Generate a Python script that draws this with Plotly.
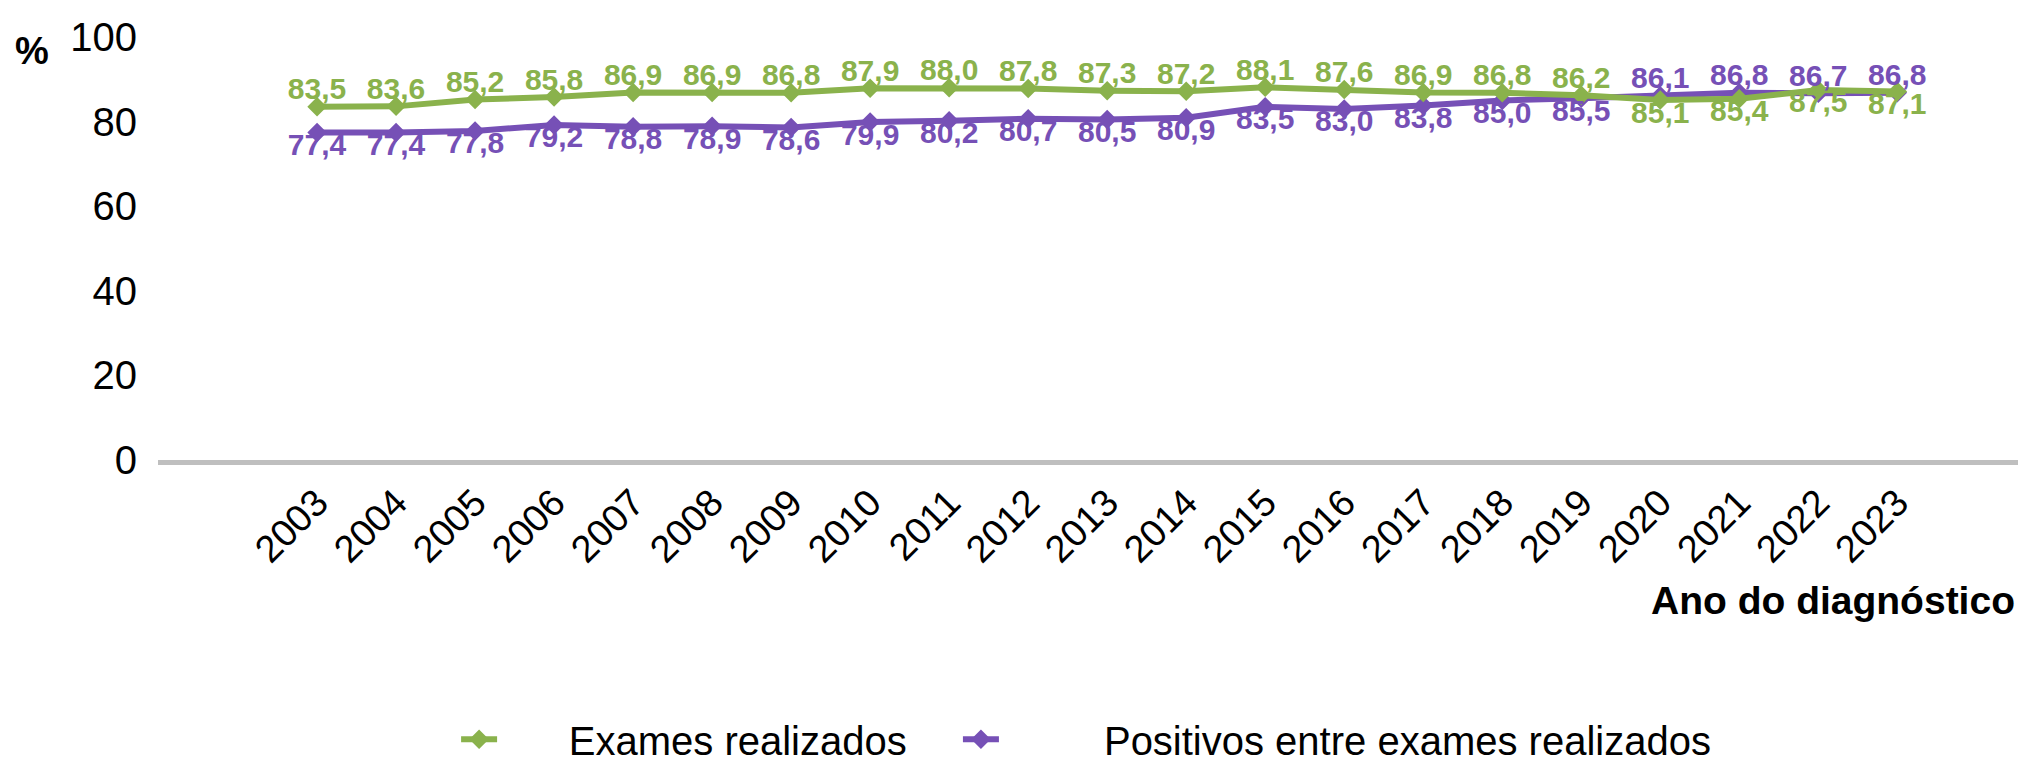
import plotly.graph_objects as go

years = [str(y) for y in range(2003, 2024)]
exames = [83.5, 83.6, 85.2, 85.8, 86.9, 86.9, 86.8, 87.9, 88.0, 87.8, 87.3,
          87.2, 88.1, 87.6, 86.9, 86.8, 86.2, 85.1, 85.4, 87.5, 87.1]
positivos = [77.4, 77.4, 77.8, 79.2, 78.8, 78.9, 78.6, 79.9, 80.2, 80.7, 80.5,
             80.9, 83.5, 83.0, 83.8, 85.0, 85.5, 86.1, 86.8, 86.7, 86.8]
y_ticks = [0, 20, 40, 60, 80, 100]

GREEN = "#8AB24C"
PURPLE = "#7650B6"
FONT = "Liberation Sans, Arial, sans-serif"
NBSP = "\u00a0"  # Excel leaves a wide gap between legend key and text


def fmt(v):
    return f"{v:.1f}".replace(".", ",")


# labels swap sides from 2020 on
swap = [int(y) >= 2020 for y in years]

series = [
    # name, values, colour, legend, padding, label positions
    ("Positivos entre exames realizados", positivos, PURPLE, "legend2", 9,
     ["top center" if s else "bottom center" for s in swap]),
    ("Exames realizados", exames, GREEN, "legend", 6,
     ["bottom center" if s else "top center" for s in swap]),
]

fig = go.Figure()
for name, vals, color, leg, pad, _ in series:
    fig.add_trace(go.Scatter(
        x=years, y=vals, name=NBSP * pad + name, legend=leg,
        mode="lines+markers",
        line=dict(color=color, width=6),
        marker=dict(symbol="diamond", size=15, color=color),
    ))
# value labels as separate text traces so they sit close to the points
for name, vals, color, leg, pad, pos in series:
    fig.add_trace(go.Scatter(
        x=years, y=vals, mode="text", showlegend=False, hoverinfo="skip",
        text=[fmt(v) for v in vals], textposition=pos,
        textfont=dict(family=FONT, size=30, color=color, weight="bold"),
        cliponaxis=False,
    ))

legend_style = dict(
    orientation="h", yanchor="middle", xanchor="left", y=-0.66,
    font=dict(family=FONT, size=40, color="black"), itemwidth=36,
    bgcolor="rgba(0,0,0,0)",
)

fig.update_layout(
    width=2026, height=757,
    margin=dict(l=150, r=0, t=28.5, b=304.5, autoexpand=False),
    paper_bgcolor="white", plot_bgcolor="white",
    font=dict(family=FONT, size=40, color="black"),
    showlegend=True,
    legend=dict(legend_style, x=0.1589),
    legend2=dict(legend_style, x=0.4264),
    xaxis=dict(
        type="category", range=[-2.013, 21.73], automargin=False,
        showline=True, linecolor="#BFBFBF", linewidth=5,
        showgrid=False, ticks="", tickangle=-45,
        tickfont=dict(family=FONT, size=38),
    ),
    yaxis=dict(
        range=[0, 100], tickvals=y_ticks, showgrid=False, zeroline=False,
        showline=False, ticks="", ticklabelstandoff=20, automargin=False,
        tickfont=dict(family=FONT, size=40),
    ),
    annotations=[
        dict(text="%", x=-0.0672, y=0.968, xref="paper", yref="paper",
             xanchor="center", yanchor="middle",
             showarrow=False, font=dict(family=FONT, size=38, weight="bold")),
        dict(text="Ano do diagnóstico", x=0.991, y=-0.333, xref="paper", yref="paper",
             xanchor="right", yanchor="middle", showarrow=False,
             font=dict(family=FONT, size=39, weight="bold")),
    ],
)

fig.write_html("out.html")
